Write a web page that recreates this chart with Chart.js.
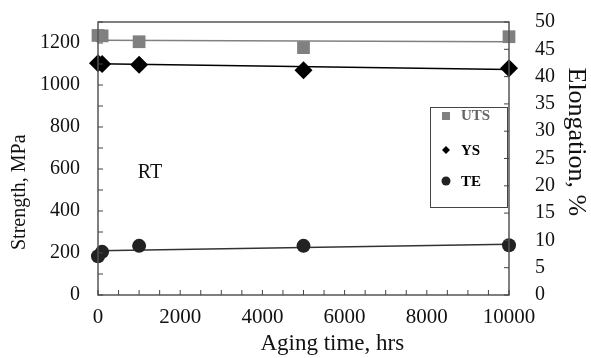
<!DOCTYPE html>
<html>
<head>
<meta charset="utf-8">
<script src="https://cdn.jsdelivr.net/npm/chart.js@4/dist/chart.umd.min.js"></script>
<style>
  html, body { margin: 0; padding: 0; background: #fff; }
  #caja { width: 591px; height: 358px; }
</style>
</head>
<body>
<div id="caja"><canvas id="myChart"></canvas></div>
<script>
// aging time, hrs
let horas = [0, 100, 1000, 5000, 10000]
// strength, MPa
let uts = [1236, 1234, 1206, 1178, 1230]
let ys = [1104, 1100, 1096, 1070, 1080]
// elongation, %
let te = [7.1, 7.9, 9.0, 9.0, 9.1]

// linear fit lines, ends at 0 and 10000 hrs
let extremos = [0, 10000]
let utsFit = [1213, 1206]
let ysFit = [1101, 1074]
let teFit = [8.1, 9.3]

let ticksX = [0, 2000, 4000, 6000, 8000, 10000]
let ticksIzq = [0, 200, 400, 600, 800, 1000, 1200]
let ticksDer = [0, 5, 10, 15, 20, 25, 30, 35, 40, 45, 50]

let fuente = "'Liberation Serif', 'Times New Roman', serif"
let graf = document.getElementById("myChart").getContext('2d')

function puntos(xs, vs) {
    let arr = []
    for (let i in xs) {
        arr.push({ x: xs[i], y: vs[i] })
    }
    return arr
}

// inward tick marks + box around the plot + legend + RT label
const extras = {
    id: 'extras',
    afterDraw(chart) {
        const ctx = chart.ctx
        const a = chart.chartArea
        ctx.save()
        ctx.strokeStyle = '#555'
        ctx.lineWidth = 1.5
        ctx.strokeRect(a.left, a.top, a.right - a.left, a.bottom - a.top)

        ctx.lineWidth = 1
        ctx.strokeStyle = '#444'
        ctx.beginPath()
        let sx = chart.scales.x
        sx.ticks.forEach((t, i) => {
            let px = sx.getPixelForTick(i)
            ctx.moveTo(px, a.bottom)
            ctx.lineTo(px, a.bottom - 5)
        })
        let sy = chart.scales.y
        sy.ticks.forEach((t, i) => {
            let py = sy.getPixelForTick(i)
            ctx.moveTo(a.left, py)
            ctx.lineTo(a.left + 5, py)
        })
        let sy2 = chart.scales.y2
        sy2.ticks.forEach((t, i) => {
            let py = sy2.getPixelForTick(i)
            ctx.moveTo(a.right, py)
            ctx.lineTo(a.right - 5, py)
        })
        ctx.stroke()

        // legend box
        ctx.strokeStyle = '#444'
        ctx.lineWidth = 1
        ctx.strokeRect(430.5, 107.5, 77, 100)
        ctx.font = "bold 15px " + fuente
        ctx.textBaseline = 'middle'
        ctx.textAlign = 'left'

        ctx.fillStyle = '#808080'
        ctx.fillRect(442, 112, 8, 8)
        ctx.fillStyle = '#666'
        ctx.fillText('UTS', 461, 116)

        ctx.fillStyle = '#000'
        ctx.beginPath()
        ctx.moveTo(446, 146)
        ctx.lineTo(450, 150)
        ctx.lineTo(446, 154)
        ctx.lineTo(442, 150)
        ctx.closePath()
        ctx.fill()
        ctx.fillText('YS', 461, 151)

        ctx.fillStyle = '#222'
        ctx.beginPath()
        ctx.arc(446, 181, 4.5, 0, Math.PI * 2)
        ctx.fill()
        ctx.fillStyle = '#000'
        ctx.fillText('TE', 461, 182)

        // test temperature
        ctx.font = "20px " + fuente
        ctx.textAlign = 'center'
        ctx.fillStyle = '#111'
        ctx.fillText('RT', 150, 173)
        ctx.restore()
    }
}

const data = {
    datasets: [
        {
            label: 'UTS',
            data: puntos(horas, uts),
            showLine: false,
            pointStyle: 'rect',
            pointRadius: 9,
            backgroundColor: '#808080',
            borderColor: '#808080',
            borderWidth: 0,
            yAxisID: 'y',
            clip: false
        },
        {
            label: 'YS',
            data: puntos(horas, ys),
            showLine: false,
            pointStyle: 'rectRot',
            pointRadius: 9,
            backgroundColor: '#000',
            borderColor: '#000',
            borderWidth: 0,
            yAxisID: 'y',
            clip: false
        },
        {
            label: 'TE',
            data: puntos(horas, te),
            showLine: false,
            pointStyle: 'circle',
            pointRadius: 7,
            backgroundColor: '#222',
            borderColor: '#222',
            borderWidth: 0,
            yAxisID: 'y2',
            clip: false
        },
        {
            label: 'UTS fit',
            data: puntos(extremos, utsFit),
            pointRadius: 0,
            borderColor: '#808080',
            borderWidth: 1.5,
            yAxisID: 'y'
        },
        {
            label: 'YS fit',
            data: puntos(extremos, ysFit),
            pointRadius: 0,
            borderColor: '#000',
            borderWidth: 1.5,
            yAxisID: 'y'
        },
        {
            label: 'TE fit',
            data: puntos(extremos, teFit),
            pointRadius: 0,
            borderColor: '#333',
            borderWidth: 1.5,
            yAxisID: 'y2'
        }
    ]
}

const config = {
    type: 'line',
    data,
    options: {
        responsive: true,
        maintainAspectRatio: false,
        animation: false,
        layout: { padding: { top: 22, left: 0, right: 0, bottom: 0 } },
        plugins: {
            legend: { display: false },
            tooltip: { enabled: false }
        },
        scales: {
            x: {
                type: 'linear',
                min: 0,
                max: 10000,
                afterFit(s) { s.height = 63; s.paddingLeft = 0; s.paddingRight = 0 },
                grid: { display: false, drawTicks: false },
                border: { display: false },
                ticks: {
                    stepSize: 500,
                    autoSkip: false,
                    maxRotation: 0,
                    padding: 10,
                    color: '#111',
                    font: { family: fuente, size: 21 },
                    callback: (v) => ticksX.includes(v) ? String(v) : ''
                },
                title: {
                    display: true,
                    text: '          Aging time, hrs',
                    color: '#111',
                    font: { family: fuente, size: 23 },
                    padding: { top: 0, bottom: 0 }
                }
            },
            y: {
                position: 'left',
                min: 0,
                max: 1300,
                afterFit(s) { s.width = 98; s.paddingTop = 0; s.paddingBottom = 0 },
                grid: { display: false, drawTicks: false },
                border: { display: false },
                ticks: {
                    stepSize: 100,
                    autoSkip: false,
                    padding: 18,
                    color: '#111',
                    font: { family: fuente, size: 20 },
                    callback: (v) => ticksIzq.includes(v) ? String(v) : ''
                },
                title: {
                    display: true,
                    align: 'start',
                    text: '         Strength, MPa',
                    color: '#111',
                    font: { family: fuente, size: 20 },
                    padding: { top: 8, bottom: 0 }
                }
            },
            y2: {
                position: 'right',
                min: 0,
                max: 50,
                afterFit(s) { s.width = 82; s.paddingTop = 0; s.paddingBottom = 0 },
                grid: { display: false, drawTicks: false },
                border: { display: false },
                ticks: {
                    stepSize: 5,
                    autoSkip: false,
                    padding: 26,
                    color: '#111',
                    font: { family: fuente, size: 20 },
                    callback: (v) => ticksDer.includes(v) ? String(v) : ''
                },
                title: {
                    display: true,
                    align: 'end',
                    text: '       Elongation, %',
                    color: '#111',
                    font: { family: fuente, size: 26 },
                    padding: { top: 0, bottom: 0 }
                }
            }
        }
    },
    plugins: [extras]
}

var myChart = new Chart(graf, config)
</script>
</body>
</html>
